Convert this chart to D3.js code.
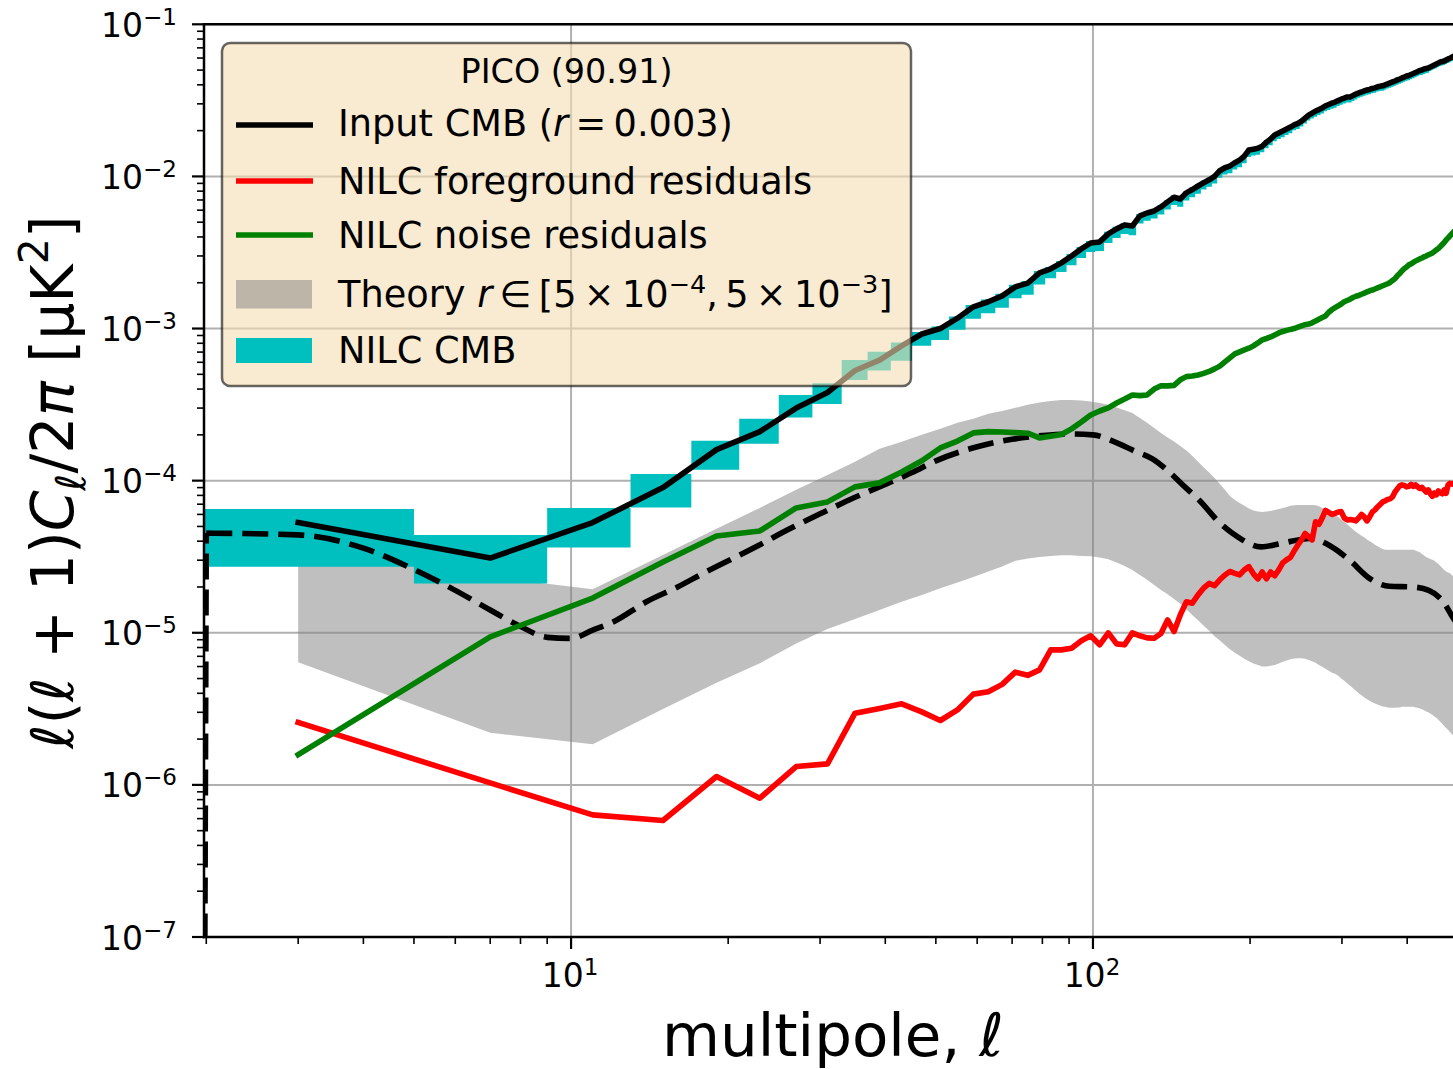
<!DOCTYPE html>
<html><head><meta charset="utf-8">
<script src="https://cdn.jsdelivr.net/npm/d3@7"></script>
<style>body{margin:0;background:#fff;overflow:hidden} svg{display:block} text{font-family:"DejaVu Sans",sans-serif;fill:#000}</style>
</head><body><svg id="chart" width="1453" height="1069"></svg>
<script>
// ---- binned multipoles (bin centres, width 4) ----
const ell = [
3,7,11,15,19,23,27,31,35,39,
43,47,51,55,59,63,67,71,75,79,
83,87,91,95,99,103,107,111,115,119,
123,127,131,135,139,143,147,151,155,159,
163,167,171,175,179,183,187,191,195,199,
203,207,211,215,219,223,227,231,235,239,
243,247,251,255,259,263,267,271,275,279,
283,287,291,295,299,303,307,311,315,319,
323,327,331,335,339,343,347,351,355,359,
363,367,371,375,379,383,387,391,395,399,
403,407,411,415,419,423,427,431,435,439,
443,447,451,455,459,463,467,471,475,479,
483,487,491,495,499];

const inputCMB = [
5.3e-5,3.1e-5,5.3e-5,9.0e-5,1.6e-4,2.1e-4,3.0e-4,3.8e-4,5.3e-4,6.2e-4,
7.7e-4,9.2e-4,1.0e-3,1.17e-3,1.39e-3,1.5e-3,1.64e-3,1.88e-3,1.99e-3,2.32e-3,
2.47e-3,2.7e-3,3.0e-3,3.34e-3,3.65e-3,3.71e-3,4.19e-3,4.52e-3,4.8e-3,4.72e-3,
5.5e-3,5.75e-3,5.93e-3,6.3e-3,6.8e-3,7.3e-3,7.1e-3,7.8e-3,8.2e-3,8.65e-3,
9.1e-3,9.5e-3,1.0e-2,1.09e-2,1.14e-2,1.17e-2,1.23e-2,1.28e-2,1.36e-2,1.49e-2,
1.51e-2,1.53e-2,1.58e-2,1.68e-2,1.76e-2,1.87e-2,1.93e-2,1.99e-2,2.05e-2,2.11e-2,
2.18e-2,2.23e-2,2.31e-2,2.42e-2,2.53e-2,2.61e-2,2.69e-2,2.75e-2,2.82e-2,2.91e-2,
2.97e-2,3.03e-2,3.08e-2,3.15e-2,3.22e-2,3.27e-2,3.33e-2,3.33e-2,3.40e-2,3.48e-2,
3.54e-2,3.59e-2,3.65e-2,3.70e-2,3.73e-2,3.79e-2,3.82e-2,3.88e-2,3.91e-2,3.94e-2,
4.0e-2,4.06e-2,4.12e-2,4.18e-2,4.24e-2,4.31e-2,4.37e-2,4.44e-2,4.50e-2,4.57e-2,
4.61e-2,4.68e-2,4.75e-2,4.82e-2,4.89e-2,4.97e-2,5.0e-2,5.08e-2,5.12e-2,5.16e-2,
5.24e-2,5.32e-2,5.40e-2,5.48e-2,5.56e-2,5.65e-2,5.69e-2,5.74e-2,5.83e-2,5.92e-2,
5.98e-2,6.07e-2,6.16e-2,6.2e-2,6.3e-2];

const nilcLo = [
2.72e-5,2.11e-5,3.63e-5,6.65e-5,1.18e-4,1.75e-4,2.6e-4,3.19e-4,4.59e-4,5.29e-4,
6.15e-4,7.7e-4,8.4e-4,9.8e-4,1.16e-3,1.26e-3,1.37e-3,1.58e-3,1.67e-3,1.95e-3,
2.14e-3,2.35e-3,2.61e-3,2.91e-3,3.18e-3,3.23e-3,3.65e-3,3.94e-3,4.18e-3,4.11e-3,
4.9e-3,5.12e-3,5.28e-3,5.61e-3,6.05e-3,6.5e-3,6.32e-3,6.94e-3,7.3e-3,7.7e-3,
8.19e-3,8.55e-3,9.0e-3,9.81e-3,1.03e-2,1.05e-2,1.11e-2,1.15e-2,1.22e-2,1.34e-2,
1.37e-2,1.39e-2,1.44e-2,1.53e-2,1.6e-2,1.7e-2,1.76e-2,1.81e-2,1.87e-2,1.92e-2,
2.01e-2,2.05e-2,2.13e-2,2.23e-2,2.33e-2,2.4e-2,2.47e-2,2.53e-2,2.59e-2,2.68e-2,
2.73e-2,2.79e-2,2.83e-2,2.9e-2,2.96e-2,3.01e-2,3.06e-2,3.06e-2,3.13e-2,3.2e-2,
3.29e-2,3.34e-2,3.39e-2,3.44e-2,3.47e-2,3.52e-2,3.55e-2,3.61e-2,3.64e-2,3.66e-2,
3.72e-2,3.78e-2,3.83e-2,3.89e-2,3.94e-2,4.01e-2,4.06e-2,4.13e-2,4.19e-2,4.25e-2,
4.29e-2,4.35e-2,4.42e-2,4.48e-2,4.55e-2,4.62e-2,4.65e-2,4.72e-2,4.76e-2,4.8e-2,
4.93e-2,5.0e-2,5.08e-2,5.15e-2,5.23e-2,5.31e-2,5.35e-2,5.4e-2,5.48e-2,5.56e-2,
5.62e-2,5.71e-2,5.79e-2,5.83e-2,5.92e-2];

const nilcHi = [
6.52e-5,4.4e-5,6.62e-5,1.108e-4,1.826e-4,2.55e-4,3.66e-4,4.37e-4,6.22e-4,7.05e-4,
8.08e-4,9.5e-4,1.03e-3,1.2e-3,1.43e-3,1.55e-3,1.69e-3,1.94e-3,2.05e-3,2.39e-3,
2.54e-3,2.78e-3,3.09e-3,3.44e-3,3.76e-3,3.82e-3,4.32e-3,4.66e-3,4.94e-3,4.86e-3,
5.67e-3,5.92e-3,6.11e-3,6.49e-3,7.0e-3,7.52e-3,7.31e-3,8.03e-3,8.45e-3,8.91e-3,
9.37e-3,9.79e-3,1.03e-2,1.12e-2,1.17e-2,1.21e-2,1.27e-2,1.32e-2,1.4e-2,1.53e-2,
1.56e-2,1.58e-2,1.63e-2,1.73e-2,1.81e-2,1.93e-2,1.99e-2,2.05e-2,2.11e-2,2.17e-2,
2.25e-2,2.3e-2,2.38e-2,2.49e-2,2.61e-2,2.69e-2,2.77e-2,2.83e-2,2.9e-2,3.0e-2,
3.06e-2,3.12e-2,3.17e-2,3.24e-2,3.32e-2,3.37e-2,3.43e-2,3.43e-2,3.5e-2,3.58e-2,
3.65e-2,3.7e-2,3.76e-2,3.81e-2,3.84e-2,3.9e-2,3.93e-2,4.0e-2,4.03e-2,4.06e-2,
4.12e-2,4.18e-2,4.24e-2,4.31e-2,4.37e-2,4.44e-2,4.5e-2,4.57e-2,4.64e-2,4.71e-2,
4.75e-2,4.82e-2,4.89e-2,4.96e-2,5.04e-2,5.12e-2,5.15e-2,5.23e-2,5.27e-2,5.31e-2,
5.4e-2,5.48e-2,5.56e-2,5.64e-2,5.73e-2,5.82e-2,5.86e-2,5.91e-2,6.0e-2,6.1e-2,
6.16e-2,6.25e-2,6.34e-2,6.39e-2,6.49e-2];

const fgResiduals = [
2.57e-6,1.03e-6,6.35e-7,5.83e-7,1.135e-6,8.18e-7,1.32e-6,1.375e-6,2.96e-6,3.18e-6,
3.41e-6,3.02e-6,2.65e-6,3.11e-6,3.95e-6,4.09e-6,4.58e-6,5.51e-6,5.25e-6,5.70e-6,
7.72e-6,7.72e-6,7.9e-6,8.85e-6,9.55e-6,8.33e-6,9.98e-6,8.45e-6,8.33e-6,9.98e-6,
9.55e-6,9.26e-6,9.2e-6,9.9e-6,1.215e-5,1.02e-5,1.31e-5,1.60e-5,1.565e-5,1.775e-5,
1.97e-5,2.11e-5,2.04e-5,2.23e-5,2.40e-5,2.53e-5,2.46e-5,2.40e-5,2.59e-5,2.72e-5,
2.44e-5,2.26e-5,2.51e-5,2.26e-5,2.51e-5,2.37e-5,2.59e-5,2.88e-5,3.02e-5,3.13e-5,
3.45e-5,3.78e-5,4.08e-5,4.50e-5,4.27e-5,4.08e-5,5.36e-5,5.16e-5,5.69e-5,6.37e-5,
6.18e-5,6.0e-5,6.1e-5,6.22e-5,6.26e-5,5.69e-5,5.52e-5,5.56e-5,5.52e-5,5.44e-5,
5.69e-5,6.0e-5,5.78e-5,5.44e-5,5.78e-5,6.22e-5,6.42e-5,6.72e-5,6.98e-5,7.25e-5,
7.36e-5,7.53e-5,7.59e-5,7.82e-5,8.43e-5,8.83e-5,9.24e-5,9.38e-5,9.3e-5,9.1e-5,
9.17e-5,9.45e-5,9.17e-5,9.38e-5,9.1e-5,8.9e-5,9.03e-5,8.7e-5,8.43e-5,8.7e-5,
8.2e-5,7.88e-5,8.3e-5,8.06e-5,8.56e-5,8.3e-5,8.2e-5,8.7e-5,8.26e-5,9.38e-5,
9.6e-5,9.5e-5,9.6e-5,9.2e-5,9.5e-5];

const noiseResiduals = [
1.58e-6,9.4e-6,1.69e-5,2.92e-5,4.33e-5,4.67e-5,6.62e-5,7.25e-5,9.1e-5,9.67e-5,
1.14e-4,1.35e-4,1.64e-4,1.82e-4,2.06e-4,2.10e-4,2.09e-4,2.07e-4,2.05e-4,1.91e-4,
1.96e-4,2.01e-4,2.19e-4,2.43e-4,2.70e-4,2.87e-4,3.01e-4,3.24e-4,3.44e-4,3.66e-4,
3.62e-4,3.66e-4,4.0e-4,4.2e-4,4.2e-4,4.23e-4,4.6e-4,4.83e-4,4.87e-4,4.95e-4,
5.07e-4,5.22e-4,5.43e-4,5.66e-4,6.03e-4,6.41e-4,6.81e-4,7.02e-4,7.23e-4,7.42e-4,
7.69e-4,8.04e-4,8.42e-4,8.6e-4,8.8e-4,9.08e-4,9.36e-4,9.57e-4,9.72e-4,9.87e-4,
1.0e-3,1.02e-3,1.04e-3,1.06e-3,1.07e-3,1.09e-3,1.12e-3,1.15e-3,1.18e-3,1.21e-3,
1.28e-3,1.33e-3,1.37e-3,1.41e-3,1.45e-3,1.50e-3,1.53e-3,1.56e-3,1.6e-3,1.63e-3,
1.65e-3,1.68e-3,1.71e-3,1.74e-3,1.77e-3,1.79e-3,1.82e-3,1.85e-3,1.88e-3,1.91e-3,
1.94e-3,1.97e-3,2.01e-3,2.07e-3,2.13e-3,2.22e-3,2.30e-3,2.39e-3,2.48e-3,2.54e-3,
2.62e-3,2.66e-3,2.72e-3,2.78e-3,2.82e-3,2.87e-3,2.91e-3,2.96e-3,3.0e-3,3.05e-3,
3.09e-3,3.14e-3,3.21e-3,3.29e-3,3.36e-3,3.46e-3,3.57e-3,3.68e-3,3.82e-3,3.93e-3,
4.06e-3,4.19e-3,4.32e-3,4.45e-3,4.58e-3];

// theory band r in [5e-4, 5e-3], per bin
const theoryLo = [
6.4e-6,2.2e-6,1.85e-6,3.15e-6,4.7e-6,6.3e-6,8.5e-6,1.06e-5,1.23e-5,1.41e-5,
1.6e-5,1.77e-5,1.96e-5,2.14e-5,2.33e-5,2.53e-5,2.73e-5,2.97e-5,3.08e-5,3.15e-5,
3.2e-5,3.23e-5,3.23e-5,3.2e-5,3.18e-5,3.13e-5,3.04e-5,2.9e-5,2.75e-5,2.59e-5,
2.4e-5,2.23e-5,2.06e-5,1.91e-5,1.79e-5,1.67e-5,1.55e-5,1.425e-5,1.31e-5,1.21e-5,
1.11e-5,1.03e-5,9.5e-6,8.9e-6,8.3e-6,7.8e-6,7.4e-6,7.05e-6,6.74e-6,6.49e-6,
6.29e-6,6.15e-6,6.01e-6,6.0e-6,6.06e-6,6.15e-6,6.29e-6,6.44e-6,6.58e-6,6.69e-6,
6.77e-6,6.81e-6,6.81e-6,6.74e-6,6.62e-6,6.49e-6,6.34e-6,6.15e-6,5.97e-6,5.79e-6,
5.62e-6,5.45e-6,5.37e-6,5.21e-6,5.01e-6,4.83e-6,4.65e-6,4.48e-6,4.31e-6,4.15e-6,
4.0e-6,3.88e-6,3.76e-6,3.65e-6,3.57e-6,3.49e-6,3.43e-6,3.38e-6,3.33e-6,3.28e-6,
3.26e-6,3.23e-6,3.21e-6,3.21e-6,3.21e-6,3.23e-6,3.23e-6,3.26e-6,3.26e-6,3.26e-6,
3.26e-6,3.26e-6,3.26e-6,3.23e-6,3.21e-6,3.18e-6,3.14e-6,3.09e-6,3.04e-6,3.0e-6,
2.95e-6,2.89e-6,2.82e-6,2.76e-6,2.68e-6,2.6e-6,2.52e-6,2.44e-6,2.37e-6,2.3e-6,
2.23e-6,2.16e-6,2.1e-6,2.04e-6,1.98e-6];

const theoryHi = [
6.4e-5,2.33e-5,1.935e-5,3.25e-5,4.82e-5,6.62e-5,8.7e-5,1.09e-4,1.33e-4,1.62e-4,
1.80e-4,2.0e-4,2.19e-4,2.40e-4,2.55e-4,2.75e-4,2.87e-4,3.01e-4,3.15e-4,3.27e-4,
3.34e-4,3.39e-4,3.39e-4,3.36e-4,3.31e-4,3.24e-4,3.15e-4,3.03e-4,2.90e-4,2.78e-4,
2.58e-4,2.40e-4,2.22e-4,2.06e-4,1.92e-4,1.81e-4,1.69e-4,1.58e-4,1.45e-4,1.33e-4,
1.22e-4,1.13e-4,1.04e-4,9.52e-5,8.70e-5,7.94e-5,7.47e-5,7.14e-5,6.83e-5,6.57e-5,
6.37e-5,6.28e-5,6.23e-5,6.26e-5,6.31e-5,6.42e-5,6.52e-5,6.62e-5,6.72e-5,6.83e-5,
6.88e-5,6.93e-5,6.93e-5,6.93e-5,6.93e-5,6.93e-5,6.88e-5,6.78e-5,6.62e-5,6.47e-5,
6.28e-5,6.09e-5,5.91e-5,5.78e-5,5.56e-5,5.36e-5,5.16e-5,4.97e-5,4.78e-5,4.61e-5,
4.47e-5,4.34e-5,4.24e-5,4.11e-5,3.99e-5,3.90e-5,3.79e-5,3.70e-5,3.62e-5,3.56e-5,
3.51e-5,3.51e-5,3.51e-5,3.51e-5,3.51e-5,3.51e-5,3.51e-5,3.51e-5,3.51e-5,3.51e-5,
3.51e-5,3.51e-5,3.51e-5,3.48e-5,3.42e-5,3.38e-5,3.30e-5,3.22e-5,3.15e-5,3.10e-5,
3.06e-5,3.02e-5,2.97e-5,2.90e-5,2.84e-5,2.75e-5,2.67e-5,2.59e-5,2.53e-5,2.49e-5,
2.46e-5,2.40e-5,2.33e-5,2.26e-5,2.20e-5];

// theory spectrum for r = 0.003 (unbinned)
const theoryEll = [1,2,3,4,5,6,7,8,9,10,11,12,14,16,18,20,23,26,30,35,40,45,50,60,70,80,90,100,110,120,130,140,150,160,175,190,210,230,260,285,310,340,370,410,440,470,490,500];
const theoryVal = [0,4.52e-5,4.40e-5,3.60e-5,2.61e-5,1.90e-5,1.41e-5,1.10e-5,9.33e-6,9.19e-6,1.04e-5,1.17e-5,1.61e-5,2.0e-5,2.48e-5,2.97e-5,3.79e-5,4.75e-5,6.05e-5,7.77e-5,9.45e-5,1.13e-4,1.35e-4,1.67e-4,1.87e-4,1.98e-4,2.03e-4,2.0e-4,1.8e-4,1.57e-4,1.39e-4,1.14e-4,9.1e-5,7.41e-5,5.27e-5,4.24e-5,3.67e-5,3.87e-5,4.17e-5,3.72e-5,3.01e-5,2.26e-5,2.02e-5,2.0e-5,1.9e-5,1.585e-5,1.25e-5,1.13e-5];

const xMajorTicks = [10, 100];
const xTickExp = ["1", "2"];
const yMajorTicks = [1e-7, 1e-6, 1e-5, 1e-4, 1e-3, 1e-2, 1e-1];
const yTickExp = ["−7", "−6", "−5", "−4", "−3", "−2", "−1"];

// ------------------------------------------------------------
const svg = d3.select('#chart');
const L = 204, R = 1460, T = 24.3, B = 937;
const x = d3.scaleLog().domain([1.98, 505]).range([L, R]);
const y = d3.scaleLog().domain([1e-7, 1e-1]).range([B, T]);
const clipVal = v => (v > 0 ? v : 1e-300); // like matplotlib nonpositive='clip'
const LW = 5.6;

svg.append('defs').append('clipPath').attr('id', 'plotclip')
  .append('rect').attr('x', L).attr('y', T).attr('width', R - L).attr('height', B - T);

// grid
const grid = svg.append('g');
xMajorTicks.forEach(v => grid.append('line').attr('x1', x(v)).attr('x2', x(v)).attr('y1', T).attr('y2', B)
  .attr('stroke', '#b0b0b0').attr('stroke-width', 2));
yMajorTicks.forEach(v => grid.append('line').attr('x1', L).attr('x2', R).attr('y1', y(v)).attr('y2', y(v))
  .attr('stroke', '#b0b0b0').attr('stroke-width', 2));

const plot = svg.append('g').attr('clip-path', 'url(#plotclip)');

const bins = ell.map((l, i) => ({ l, cmb: inputCMB[i], lo: nilcLo[i], hi: nilcHi[i], fg: fgResiduals[i], noise: noiseResiduals[i], tlo: theoryLo[i], thi: theoryHi[i] }));

// theory band
plot.append('path').datum(bins)
  .attr('d', d3.area().x(d => x(d.l)).y0(d => y(d.tlo)).y1(d => y(d.thi)))
  .attr('fill', '#808080').attr('fill-opacity', 0.5);

// NILC CMB band (step per bin)
const steps = bins.flatMap(d => [{ l: d.l - 2, lo: d.lo, hi: d.hi }, { l: d.l + 2, lo: d.lo, hi: d.hi }]);
plot.append('path').datum(steps)
  .attr('d', d3.area().x(d => x(d.l)).y0(d => y(d.lo)).y1(d => y(d.hi)))
  .attr('fill', '#00bfbf');

// theory dashed line
const th = theoryEll.map((l, i) => ({ l, v: clipVal(theoryVal[i]) }));
plot.append('path').datum(th.slice(0, 2))
  .attr('d', d3.line().x(d => x(d.l)).y(d => y(d.v)))
  .attr('fill', 'none').attr('stroke', '#000').attr('stroke-width', LW).attr('stroke-dasharray', '26,10');
plot.append('path').datum(th.slice(1))
  .attr('d', d3.line().x(d => x(d.l)).y(d => y(d.v)).curve(d3.curveMonotoneX))
  .attr('fill', 'none').attr('stroke', '#000').attr('stroke-width', LW).attr('stroke-dasharray', '26,10');

function addLine(key, color) {
  plot.append('path').datum(bins)
    .attr('d', d3.line().x(d => x(d.l)).y(d => y(d[key])))
    .attr('fill', 'none').attr('stroke', color).attr('stroke-width', LW)
    .attr('stroke-linejoin', 'round').attr('stroke-linecap', 'square');
}
addLine('cmb', '#000');
addLine('fg', '#ff0000');
addLine('noise', '#008000');

// spines
const ax = svg.append('g').attr('stroke', '#000');
ax.append('line').attr('x1', L).attr('x2', L).attr('y1', T).attr('y2', B).attr('stroke-width', 2.5).attr('stroke-linecap', 'square');
ax.append('line').attr('x1', L).attr('x2', R).attr('y1', B).attr('y2', B).attr('stroke-width', 2.5).attr('stroke-linecap', 'square');
ax.append('line').attr('x1', L).attr('x2', R).attr('y1', T).attr('y2', T).attr('stroke-width', 2.5).attr('stroke-linecap', 'square');

// ticks
const xd = x.domain(), yd = y.domain();
const xMinor = [], yMinor = [];
[1, 10, 100].forEach(d => { for (let k = 2; k <= 9; k++) { const v = k * d; if (v >= xd[0] && v <= xd[1]) xMinor.push(v); } });
[1e-7, 1e-6, 1e-5, 1e-4, 1e-3, 1e-2].forEach(d => { for (let k = 2; k <= 9; k++) { const v = k * d; if (v >= yd[0] && v <= yd[1]) yMinor.push(v); } });
xMajorTicks.forEach(v => ax.append('line').attr('x1', x(v)).attr('x2', x(v)).attr('y1', B).attr('y2', B + 12).attr('stroke-width', 2.2));
xMinor.forEach(v => ax.append('line').attr('x1', x(v)).attr('x2', x(v)).attr('y1', B).attr('y2', B + 7).attr('stroke-width', 1.6));
yMajorTicks.forEach(v => ax.append('line').attr('x1', L - 12).attr('x2', L).attr('y1', y(v)).attr('y2', y(v)).attr('stroke-width', 2.2));
yMinor.forEach(v => ax.append('line').attr('x1', L - 7).attr('x2', L).attr('y1', y(v)).attr('y2', y(v)).attr('stroke-width', 1.6));

// tick labels
xMajorTicks.forEach((v, i) => {
  const t = svg.append('text').attr('x', x(v) - 1).attr('y', 987).attr('text-anchor', 'middle').attr('font-size', 33).text('10');
  t.append('tspan').attr('dy', -12).attr('font-size', 23).text(xTickExp[i]);
});
yMajorTicks.forEach((v, i) => {
  const t = svg.append('text').attr('x', 177).attr('y', y(v) + 12.5).attr('text-anchor', 'end').attr('font-size', 33).text('10');
  t.append('tspan').attr('dy', -12).attr('font-size', 23).text(yTickExp[i]);
});

// rich text helper
function rich(t, parts) {
  let cur = 0;
  parts.forEach(p => {
    const s = typeof p === 'string' ? { t: p } : p;
    const target = s.dy || 0;
    const ts = t.append('tspan').text(s.t);
    if (target !== cur) ts.attr('dy', target - cur);
    if (s.i) ts.attr('font-style', 'italic');
    if (s.fs) ts.attr('font-size', s.fs);
    cur = target;
  });
}

// axis labels
const xl = svg.append('text').attr('x', 833).attr('y', 1056).attr('text-anchor', 'middle').attr('font-size', 59.5);
rich(xl, ['multipole, ', { t: 'ℓ', i: true }]);
const yl = svg.append('text').attr('transform', 'translate(73,482) rotate(-90)').attr('text-anchor', 'middle').attr('font-size', 58.5);
rich(yl, [{ t: 'ℓ', i: true }, '(', { t: 'ℓ', i: true }, ' + 1)', { t: 'C', i: true }, { t: 'ℓ', i: true, fs: 41, dy: 12 }, '/2', { t: 'π', i: true }, ' [μK', { t: '2', fs: 41, dy: -25 }, ']']);

// legend
const lg = svg.append('g');
lg.append('rect').attr('x', 222).attr('y', 43).attr('width', 689).attr('height', 343).attr('rx', 8)
  .attr('fill', '#f5deb3').attr('fill-opacity', 0.6).attr('stroke', '#000').attr('stroke-opacity', 0.6).attr('stroke-width', 2.5);
lg.append('text').attr('x', 566.5).attr('y', 83).attr('text-anchor', 'middle').attr('font-size', 33.4).text('PICO (90.91)');
const lineHandles = [[125, '#000'], [181, '#ff0000'], [235, '#008000']];
lineHandles.forEach(([yy, c]) => lg.append('line').attr('x1', 236).attr('x2', 313).attr('y1', yy).attr('y2', yy).attr('stroke', c).attr('stroke-width', LW));
lg.append('rect').attr('x', 236).attr('y', 280).attr('width', 76).attr('height', 28.5).attr('fill', '#808080').attr('fill-opacity', 0.5);
lg.append('rect').attr('x', 236).attr('y', 338).attr('width', 76).attr('height', 25).attr('fill', '#00bfbf');
const fsz = 36.7;
const e1 = lg.append('text').attr('x', 338).attr('y', 136).attr('font-size', fsz);
rich(e1, ['Input CMB (', { t: 'r', i: true }, '\u2009=\u20090.003)']);
lg.append('text').attr('x', 338).attr('y', 194).attr('font-size', fsz).text('NILC foreground residuals');
lg.append('text').attr('x', 338).attr('y', 248).attr('font-size', fsz).text('NILC noise residuals');
const e4 = lg.append('text').attr('x', 338).attr('y', 306.5).attr('font-size', fsz);
rich(e4, ['Theory ', { t: 'r', i: true }, '\u2009∈\u2009[5\u2009×\u200910', { t: '−4', fs: 25.5, dy: -14 }, ',\u20095\u2009×\u200910', { t: '−3', fs: 25.5, dy: -14 }, ']']);
lg.append('text').attr('x', 338).attr('y', 362.6).attr('font-size', fsz).text('NILC CMB');
</script></body></html>
